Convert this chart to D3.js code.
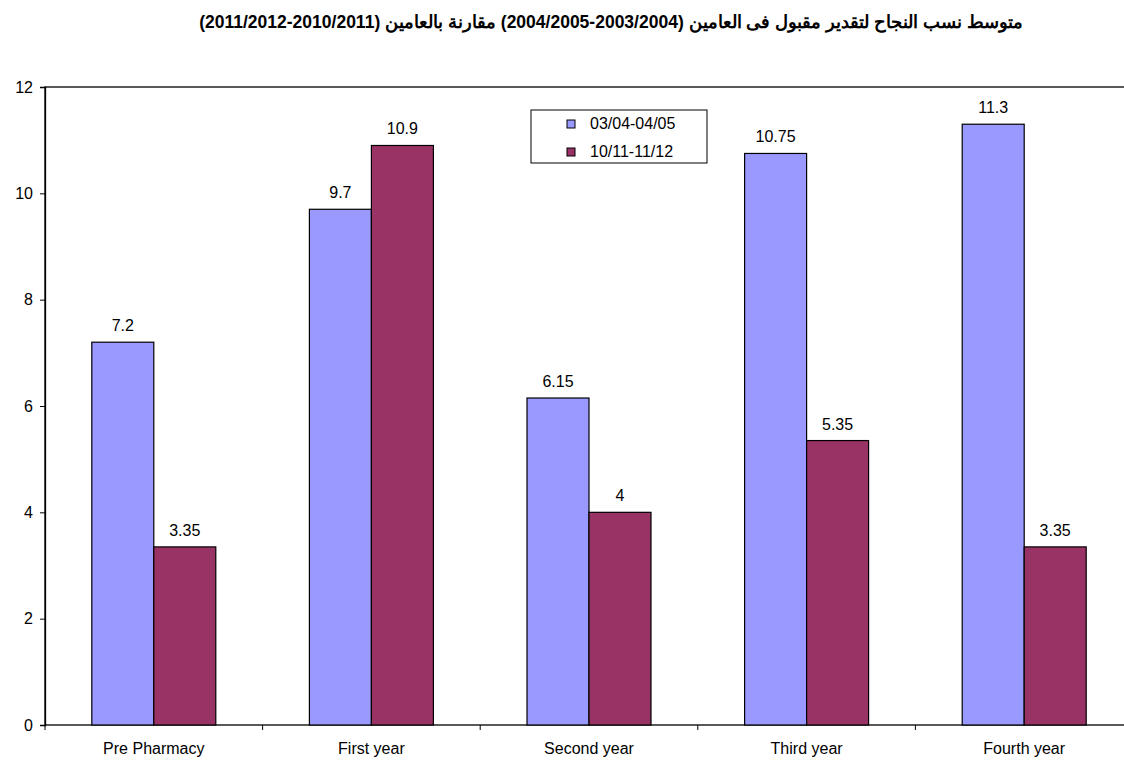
<!DOCTYPE html>
<meta charset="utf-8">
<script src="https://d3js.org/d3.v7.min.js"></script>
<style>
  body { margin: 0; background: #fff; }
  text { font-family: "Liberation Sans", Arial, sans-serif; fill: #000; }
</style>
<body>
<div id="chart"></div>
<script>

// chart data
var categories = ["Pre Pharmacy", "First year", "Second year", "Third year", "Fourth year"];
var seriesNames = ["03/04-04/05", "10/11-11/12"];
var seriesA = [7.2, 9.7, 6.15, 10.75, 11.3];
var seriesB = [3.35, 10.9, 4, 5.35, 3.35];
var yTicks = [0, 2, 4, 6, 8, 10, 12];
var colors = ["#9999ff", "#993366"];
// number runs isolated (LRI ... PDI) so they keep their left-to-right order
var title = "متوسط نسب النجاح لتقدير مقبول فى العامين (\u20662004/2005-2003/2004\u2069) مقارنة بالعامين (\u20662011/2012-2010/2011\u2069)";

var W = 1124, H = 760;
var margin = {top: 87, left: 45, bottom: 35, right: -9};
var fs = "16px";

var svg = d3.select("#chart")
  .append("svg")
    .attr("width", W)
    .attr("height", H);

var x0 = d3.scaleBand()
  .domain(categories)
  .range([margin.left, W - margin.right]);

var x1 = d3.scaleBand()
  .domain(seriesNames)
  .range([0, x0.bandwidth()])
  .paddingInner(0)
  .paddingOuter(0.755);

var y = d3.scaleLinear()
  .domain([0, 12])
  .range([H - margin.bottom, margin.top]);

// plot frame
svg.append("rect")
  .attr("x", margin.left)
  .attr("y", margin.top)
  .attr("width", W - margin.right - margin.left)
  .attr("height", y(0) - margin.top)
  .attr("fill", "none")
  .attr("stroke", "#000")
  .attr("stroke-width", 1.3);

// title (rtl)
svg.append("text")
  .attr("x", 611)
  .attr("y", 28)
  .attr("text-anchor", "middle")
  .attr("direction", "rtl")
  .style("font-size", "17.5px")
  .style("font-weight", "bold")
  .text(title);

var rows = categories.map(function(c, i) {
  return {cat: c, vals: [seriesA[i], seriesB[i]]};
});

var groups = svg.selectAll(".grp")
  .data(rows)
  .enter().append("g")
    .attr("transform", function(d) { return "translate(" + x0(d.cat) + ",0)"; });

groups.selectAll("rect")
  .data(function(d) { return d.vals.map(function(v, j) { return {k: seriesNames[j], v: v, j: j}; }); })
  .enter().append("rect")
    .attr("x", function(d) { return x1(d.k); })
    .attr("y", function(d) { return y(d.v); })
    .attr("width", x1.bandwidth())
    .attr("height", function(d) { return y(0) - y(d.v); })
    .attr("fill", function(d) { return colors[d.j]; })
    .attr("stroke", "#000")
    .attr("stroke-width", 1.2);

groups.selectAll(".lbl")
  .data(function(d) { return d.vals.map(function(v, j) { return {k: seriesNames[j], v: v}; }); })
  .enter().append("text")
    .attr("x", function(d) { return x1(d.k) + x1.bandwidth() / 2; })
    .attr("y", function(d) { return y(d.v) - 11; })
    .attr("text-anchor", "middle")
    .style("font-size", fs)
    .text(function(d) { return d.v; });

// axes
var yAxis = svg.append("g")
  .attr("transform", "translate(" + margin.left + ",0)")
  .call(d3.axisLeft(y).tickValues(yTicks).tickSize(5).tickPadding(7).tickFormat(d3.format("d")));
yAxis.select(".domain").attr("stroke", "#000").attr("stroke-width", 1.3);
yAxis.selectAll("text").style("font-size", fs).style("font-family", "Liberation Sans, Arial, sans-serif");

var xTickScale = d3.scaleLinear().domain([0, categories.length]).range(x0.range());
var xAxis = svg.append("g")
  .attr("transform", "translate(0," + y(0) + ")");
xAxis.selectAll("line")
  .data(d3.range(categories.length + 1))
  .enter().append("line")
    .attr("x1", function(d) { return xTickScale(d); })
    .attr("x2", function(d) { return xTickScale(d); })
    .attr("y1", 0)
    .attr("y2", 5)
    .attr("stroke", "#000");
xAxis.selectAll("text")
  .data(categories)
  .enter().append("text")
    .attr("x", function(d) { return x0(d) + x0.bandwidth() / 2; })
    .attr("y", 29)
    .attr("text-anchor", "middle")
    .style("font-size", fs)
    .text(function(d) { return d; });

// legend
var lg = svg.append("g").attr("transform", "translate(531,110)");
lg.append("rect")
  .attr("width", 176)
  .attr("height", 53)
  .attr("fill", "#fff")
  .attr("stroke", "#000");
seriesNames.forEach(function(s, i) {
  lg.append("rect")
    .attr("x", 36)
    .attr("y", 10 + i * 28)
    .attr("width", 8)
    .attr("height", 8)
    .attr("fill", colors[i])
    .attr("stroke", "#000");
  lg.append("text")
    .attr("x", 59)
    .attr("y", 19 + i * 28)
    .style("font-size", fs)
    .text(s);
});

</script>
</body>
